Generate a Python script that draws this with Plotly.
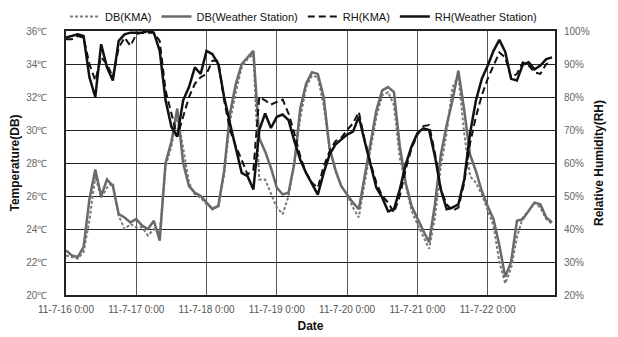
import plotly.graph_objects as go

# time in hours from 2011-07-16 0:00, 2-hour steps
hours = list(range(0, 168, 2))

db_kma = [22.4, 22.3, 22.2, 22.6, 24.5, 27.2, 25.9, 26.5, 26.8, 24.8,
          24.0, 24.3, 24.1, 24.1, 23.6, 24.0, 23.8, 27.8, 29.0, 31.0,
          29.0, 26.8, 26.1, 25.9, 25.5, 25.3, 25.3, 27.3, 30.5, 32.3,
          33.8, 34.3, 34.6, 27.0, 27.0, 26.1, 25.3, 24.9, 26.0, 28.1,
          30.7, 32.6, 33.3, 33.2, 31.5, 28.9, 27.5, 26.6, 26.1, 25.3,
          24.7, 26.8, 28.8, 30.8, 32.1, 32.3, 31.5, 28.3, 26.7, 25.1,
          24.3, 23.6, 22.8, 24.7, 27.8, 29.8, 32.6, 33.3, 29.8, 27.2,
          26.8, 26.1, 25.2, 24.2, 22.0, 20.7, 21.6, 23.5, 24.7, 25.1,
          25.6, 25.3, 24.6, 24.3]

db_ws = [22.7, 22.4, 22.3, 22.9, 25.8, 27.6, 26.0, 27.0, 26.6, 24.9,
         24.7, 24.4, 24.6, 24.2, 24.0, 24.5, 23.3, 28.0, 29.3, 31.3,
         28.0, 26.6, 26.2, 26.0, 25.6, 25.2, 25.4, 27.5, 31.0, 32.8,
         34.0, 34.4, 34.8, 29.5, 28.7, 27.7, 26.5, 26.1, 26.2, 28.0,
         31.3, 32.8, 33.5, 33.4, 32.0, 28.9, 27.6, 26.6, 26.1, 25.6,
         25.2, 27.1, 29.2, 31.2, 32.4, 32.6, 32.3, 29.0, 26.8, 25.4,
         24.6, 23.9, 23.2, 25.5, 28.5, 30.3, 31.8, 33.6, 31.2, 28.5,
         27.5, 26.3, 25.4, 24.6, 23.0, 21.1, 22.0, 24.5, 24.6, 25.1,
         25.6, 25.5, 24.7, 24.4]

rh_kma = [97.5, 97.5, 98.5, 98.0, 90.0, 85.0, 92.0, 90.0, 86.0, 95.0,
          98.0, 95.5, 99.0, 99.5, 99.5, 99.5, 97.0, 82.0, 75.0, 68.0,
          74.0, 80.0, 84.0, 86.0, 87.0, 91.0, 91.0, 79.0, 70.0, 65.0,
          61.0, 56.5, 58.0, 80.0, 79.0, 77.7, 78.5, 79.2, 75.0, 69.0,
          62.0, 57.0, 54.0, 52.5, 59.0, 63.5, 66.6, 67.6, 70.0, 72.0,
          75.5, 67.0, 60.0, 54.0, 50.0, 48.0, 45.0, 50.0, 58.0, 64.5,
          68.5, 71.2, 71.5, 63.0, 52.0, 47.5, 45.5, 46.5, 54.0, 66.0,
          74.0, 80.5, 85.5, 89.5, 93.5, 92.0, 86.0, 87.0, 90.5, 89.5,
          87.5, 87.0, 90.0, 90.5]

rh_ws = [98.0, 98.5, 99.0, 98.5, 86.0, 80.0, 96.0, 89.0, 85.0, 97.0,
         99.0, 99.5, 99.5, 99.5, 100.0, 99.5, 94.0, 79.0, 71.0, 68.0,
         79.0, 83.0, 89.0, 87.0, 94.0, 93.0, 90.0, 80.0, 72.0, 64.0,
         57.0, 56.0, 52.0, 70.0, 75.0, 70.6, 74.0, 74.7, 73.0, 66.6,
         61.0, 57.0, 53.5, 50.4, 57.0, 62.5, 65.6, 67.0, 68.6, 69.5,
         74.0, 66.6, 59.5, 52.5, 49.5, 45.3, 46.0, 52.0, 59.5, 65.0,
         69.0, 70.5, 70.0, 62.0, 52.0, 46.0, 46.5, 47.5, 55.0, 69.0,
         79.0, 85.5, 89.5, 94.0, 97.3, 93.7, 85.5, 85.0, 89.8, 90.5,
         88.4, 89.5, 91.5, 92.0]

tick_hours = [0, 24, 48, 72, 96, 120, 144]
tick_labels = ["11-7-16 0:00", "11-7-17 0:00", "11-7-18 0:00", "11-7-19 0:00",
               "11-7-20 0:00", "11-7-21 0:00", "11-7-22 0:00"]
temp_ticks = [20, 22, 24, 26, 28, 30, 32, 34, 36]
rh_ticks = [20, 30, 40, 50, 60, 70, 80, 90, 100]

FONT = "Liberation Sans"
GRAY = "#6a6a6a"

fig = go.Figure()
fig.add_trace(go.Scatter(x=hours, y=db_kma, name="DB(KMA)", mode="lines",
                         line=dict(color="#7a7a7a", width=2, dash="3px,2px")))
fig.add_trace(go.Scatter(x=hours, y=db_ws, name="DB(Weather Station)", mode="lines",
                         line=dict(color=GRAY, width=2.5)))
fig.add_trace(go.Scatter(x=hours, y=rh_kma, name="RH(KMA)", mode="lines", yaxis="y2",
                         line=dict(color="#111111", width=2, dash="7px,4px")))
fig.add_trace(go.Scatter(x=hours, y=rh_ws, name="RH(Weather Station)", mode="lines", yaxis="y2",
                         line=dict(color="#111111", width=2.5)))

# page body has an 8px margin, so the figure is 8px smaller than the window
fig.update_layout(
    width=610, height=329,
    margin=dict(l=58, r=63, t=23, b=42, autoexpand=False),
    paper_bgcolor="white", plot_bgcolor="white",
    font=dict(family=FONT, size=11, color="#222"),
    showlegend=True,
    legend=dict(orientation="h", x=-0.002, xanchor="left",
                y=1.0, yanchor="bottom",
                font=dict(family=FONT, size=11, color="#111"),
                itemwidth=30, tracegroupgap=0, bgcolor="rgba(0,0,0,0)"),
    xaxis=dict(range=[0, 167], tickvals=tick_hours, ticktext=tick_labels,
               showgrid=True, gridcolor="#555", gridwidth=1,
               showline=True, linecolor="#222", linewidth=1.5, mirror=True,
               ticks="", ticklabelstandoff=4, zeroline=False,
               tickfont=dict(family=FONT, size=10, color="#555"),
               title=dict(text="<b>Date</b>", font=dict(family=FONT, size=12, color="#111"),
                          standoff=8)),
    yaxis=dict(range=[20, 36], tickvals=temp_ticks, ticktext=[f"{v}℃" for v in temp_ticks],
               showgrid=True, gridcolor="#222", gridwidth=1,
               showline=True, linecolor="#222", linewidth=1.5, mirror=True,
               ticks="", ticklabelstandoff=15, zeroline=False,
               tickfont=dict(family=FONT, size=10, color="#666"),
               title=dict(text="<b>Temperature(DB)</b>", font=dict(family=FONT, size=12, color="#111"),
                          standoff=6)),
    yaxis2=dict(range=[20, 100], tickvals=rh_ticks, ticktext=[f"{v}%" for v in rh_ticks],
                overlaying="y", side="right", showgrid=False, zeroline=False,
                ticks="", ticklabelstandoff=8,
                tickfont=dict(family=FONT, size=10, color="#666"),
                title=dict(text="<b>Relative Humidity(RH)</b>", font=dict(family=FONT, size=12, color="#111"),
                           standoff=5)),
)

fig.write_html("out.html")
